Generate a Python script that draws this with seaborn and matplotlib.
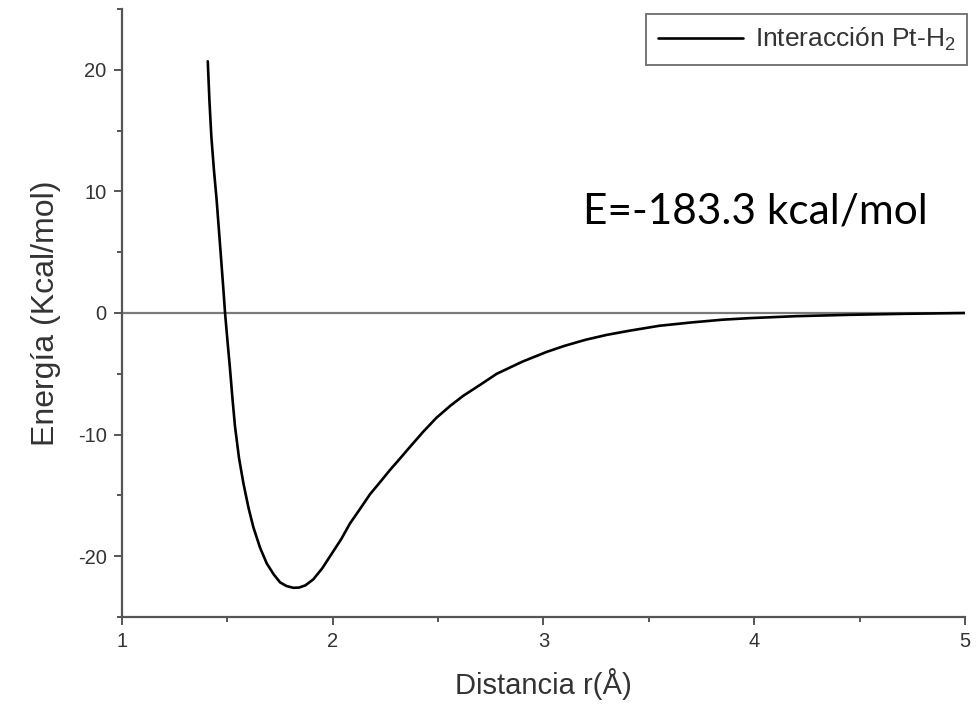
import numpy as np
import pandas as pd
import matplotlib
matplotlib.use("Agg")
import matplotlib.pyplot as plt
import seaborn as sns
from matplotlib.ticker import MultipleLocator

# Data
distance = [1.407, 1.415, 1.424, 1.436, 1.449, 1.460, 1.470, 1.480, 1.489,
            1.500, 1.512, 1.524, 1.536, 1.555, 1.576, 1.600, 1.623, 1.655,
            1.687, 1.720, 1.750, 1.780, 1.813, 1.840, 1.870, 1.908, 1.950,
            1.995, 2.040, 2.082, 2.130, 2.177, 2.225, 2.272, 2.320, 2.367,
            2.430, 2.493, 2.560, 2.620, 2.700, 2.778, 2.900, 3.015, 3.100,
            3.200, 3.300, 3.410, 3.550, 3.700, 3.850, 3.980, 4.200, 4.450,
            4.700, 5.000]
energy = [20.7, 17.4, 14.5, 11.8, 9.3, 6.8, 4.5, 2.2, 0.0,
          -2.2, -4.5, -7.0, -9.3, -11.9, -14.0, -16.0, -17.6, -19.3,
          -20.6, -21.5, -22.15, -22.45, -22.6, -22.58, -22.4, -21.9, -21.0,
          -19.8, -18.6, -17.3, -16.1, -14.9, -13.9, -12.9, -11.95, -11.0,
          -9.75, -8.6, -7.6, -6.8, -5.9, -5.0, -4.0, -3.2, -2.7,
          -2.2, -1.8, -1.45, -1.05, -0.78, -0.55, -0.42, -0.26, -0.15,
          -0.07, 0.0]
series_label = "Interacción Pt-H$_2$"
x_ticks = [1, 2, 3, 4, 5]
y_ticks = [-20, -10, 0, 10, 20]
annotation = "E=-183.3 kcal/mol"

df = pd.DataFrame({"Distancia": distance, "Energia": energy})

sns.set_style("ticks")
plt.rcParams["font.family"] = ["Liberation Sans", "DejaVu Sans"]
plt.rcParams["mathtext.fontset"] = "custom"
plt.rcParams["mathtext.rm"] = "Liberation Sans"
plt.rcParams["mathtext.it"] = "Liberation Sans"

spine_col = "#555555"
fig = plt.figure(figsize=(9.79, 7.14), dpi=100)
ax = fig.add_axes([122/979, 1 - 617/714, (965 - 122)/979, (617 - 9)/714])

ax.axhline(0, color="#7a7a7a", lw=1.6, zorder=1)
sns.lineplot(data=df, x="Distancia", y="Energia", ax=ax, color="black",
             lw=1.9, label=series_label, sort=False, zorder=3)

ax.set_xlim(1, 5)
ax.set_ylim(-25, 25)
ax.set_xticks(x_ticks)
ax.set_yticks(y_ticks)
ax.set_xticklabels([str(v) for v in x_ticks])
ax.set_yticklabels([str(v) for v in y_ticks])
ax.xaxis.set_minor_locator(MultipleLocator(0.5))
ax.yaxis.set_minor_locator(MultipleLocator(5))
ax.tick_params(which="major", length=6, width=1.4, color=spine_col,
               labelsize=14.5, labelcolor="#333333", direction="out", pad=5)
ax.tick_params(which="minor", length=3.5, width=1.4, color=spine_col,
               direction="out")

sns.despine(ax=ax, top=True, right=True)
for s in ["left", "bottom"]:
    ax.spines[s].set_color(spine_col)
    ax.spines[s].set_linewidth(1.6)

ax.set_xlabel("Distancia r(Å)", fontsize=21, color="#333333", labelpad=12)
ax.set_ylabel("Energía (Kcal/mol)", fontsize=23, color="#333333", labelpad=12)

leg = ax.legend(loc="upper right", bbox_to_anchor=(967/979, 1 - 14/714),
                bbox_transform=fig.transFigure, fontsize=19, frameon=True,
                fancybox=False, handlelength=3.2, handletextpad=0.45,
                borderpad=0.45, borderaxespad=0)
leg.get_frame().set_edgecolor("#555555")
leg.get_frame().set_linewidth(1.4)
for t in leg.get_texts():
    t.set_color("#333333")

fig.text(583/979, 1 - 223/714, annotation, fontsize=30.5,
         family=["Lato", "DejaVu Sans"], color="black", va="baseline",
         ha="left")

fig.savefig("out.png", dpi=100)
